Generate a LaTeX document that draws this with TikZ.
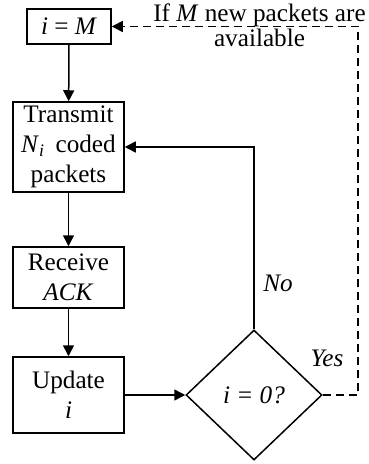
\documentclass[tikz,border=0pt]{standalone}
\usepackage{fontspec}
\setmainfont{Liberation Serif}
\usetikzlibrary{shapes.geometric,arrows.meta}
\begin{document}
\begin{tikzpicture}[x=0.5pt,y=-0.5pt,
  every node/.style={font=\fontsize{12.6}{15}\selectfont},
  box/.style={draw, line width=0.75pt, inner sep=0pt, align=center, minimum width=55.5pt},
  dec/.style={draw, diamond, line width=0.75pt, inner sep=0pt, minimum width=68pt, minimum height=65pt},
  conn/.style={line width=0.75pt, -{Triangle[length=5.5pt,width=5.5pt]}},
  dconn/.style={conn, dash pattern=on 4pt off 2.5pt},
  lbl/.style={inner sep=0pt, align=center}]
\useasboundingbox (0,0) rectangle (368,464);
\node[box, minimum width=42pt, minimum height=17.5pt] (im) at (69,26.5) {\textit{i} = \textit{M}};
\node[box, minimum height=45pt] (tx) at (68.5,147) {Transmit\\\textit{N}\textsubscript{\textit{i}}\, coded\\packets};
\node[box, minimum height=30.5pt] (rx) at (68.5,277.5) {Receive\\\textit{ACK}};
\node[box, minimum height=38pt] (up) at (68.5,395) {Update\\\textit{i}};
\node[dec] (d) at (254,395) {\textit{i = 0?}};
\coordinate (nc) at (254,147);
\coordinate (c1) at (358,395);
\coordinate (c2) at (358,26.5);
\draw[conn] (im) -- (tx);
\draw[conn] (tx) -- (rx);
\draw[conn] (rx) -- (up);
\draw[conn] (up) -- (d);
\draw[conn] (d.north) -- (nc) -- (tx.east);
\draw[dconn] (d.east) -- (c1) -- (c2) -- (im.east);
\node[lbl] (no) at (278,283) {\textit{No}};
\node[lbl] (yes) at (327,358) {\textit{Yes}};
\node[lbl, font=\fontsize{12.6}{12.5}\selectfont] (avail) at (259.5,25) {If \textit{M} new packets are\\available};
\end{tikzpicture}
\end{document}
